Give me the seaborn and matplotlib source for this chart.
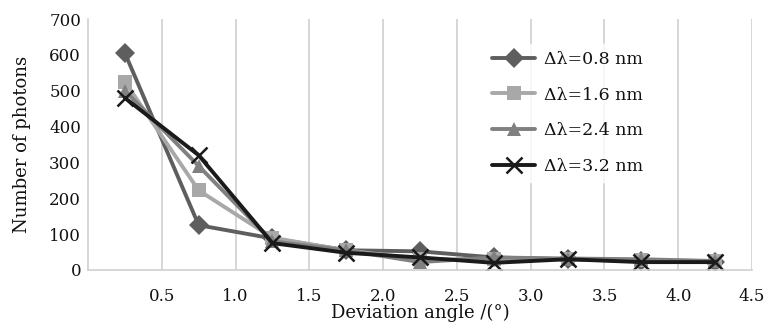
import numpy as np
import pandas as pd
import matplotlib
matplotlib.use("Agg")
import matplotlib.pyplot as plt
import seaborn as sns

angles = [0.25, 0.75, 1.25, 1.75, 2.25, 2.75, 3.25, 3.75, 4.25]
s08 = [605, 125, 88, 55, 52, 35, 30, 25, 22]
s16 = [525, 222, 90, 55, 30, 30, 30, 27, 25]
s24 = [500, 290, 80, 55, 22, 35, 32, 30, 25]
s32 = [480, 320, 75, 48, 35, 20, 30, 22, 22]
labels = ["Δλ=0.8 nm", "Δλ=1.6 nm", "Δλ=2.4 nm", "Δλ=3.2 nm"]
yticks = [0, 100, 200, 300, 400, 500, 600, 700]
xticks = [0.5, 1.0, 1.5, 2.0, 2.5, 3.0, 3.5, 4.0, 4.5]

rows = []
for lab, vals in zip(labels, [s08, s16, s24, s32]):
    for a, v in zip(angles, vals):
        rows.append({"angle": a, "photons": v, "series": lab})
df = pd.DataFrame(rows)

sns.set_style("white")
plt.rcParams['font.family'] = ['DejaVu Serif', 'Liberation Serif']
plt.rcParams['text.color'] = '#111111'
plt.rcParams['xtick.labelcolor'] = '#111111'
plt.rcParams['ytick.labelcolor'] = '#111111'
plt.rcParams['axes.labelcolor'] = '#111111'

fig = plt.figure(figsize=(7.68, 3.24), dpi=100)
ax = fig.add_axes([88/768, 54/324, 664/768, 251/324])

palette = {labels[0]: "#5e5e5e", labels[1]: "#a8a8a8", labels[2]: "#808080", labels[3]: "#1a1a1a"}
markers = {labels[0]: "D", labels[1]: "s", labels[2]: "^", labels[3]: "X"}
sns.lineplot(data=df, x="angle", y="photons", hue="series", style="series",
             palette=palette, markers=markers, dashes=False, linewidth=2.8,
             markersize=10, markeredgewidth=0, ax=ax)
lines = ax.get_lines()
lines[3].set_marker("x")
lines[3].set_markeredgewidth(1.8)
lines[3].set_markersize(12)
lines[3].set_markeredgecolor("#1a1a1a")

ax.set_xlim(0, 4.5)
ax.set_ylim(0, 700)
ax.set_xticks(xticks)
ax.set_xticklabels([f"{t:.1f}" for t in xticks])
ax.set_yticks(yticks)
ax.tick_params(labelsize=12, length=0)
ax.tick_params(axis="x", pad=13)
ax.tick_params(axis="y", pad=5)
ax.xaxis.grid(True, color="#d0d0d0", linewidth=1.2)
ax.yaxis.grid(False)
for s in ["top", "right"]:
    ax.spines[s].set_visible(False)
for s in ["left", "bottom"]:
    ax.spines[s].set_color("#d0d0d0")
    ax.spines[s].set_linewidth(1.2)
ax.set_xlabel("Deviation angle /(°)", fontsize=13, labelpad=-1)
ax.set_ylabel("Number of photons", fontsize=13, labelpad=13)

handles = ax.get_lines()[:4]
leg = ax.legend(handles, labels, loc="upper left", bbox_to_anchor=(0.585, 0.935),
                frameon=True, fontsize=12.5, handlelength=2.5, labelspacing=1.07,
                handletextpad=0.5)
leg.get_frame().set_facecolor("white")
leg.get_frame().set_edgecolor("white")

fig.savefig("out.png", dpi=100)
